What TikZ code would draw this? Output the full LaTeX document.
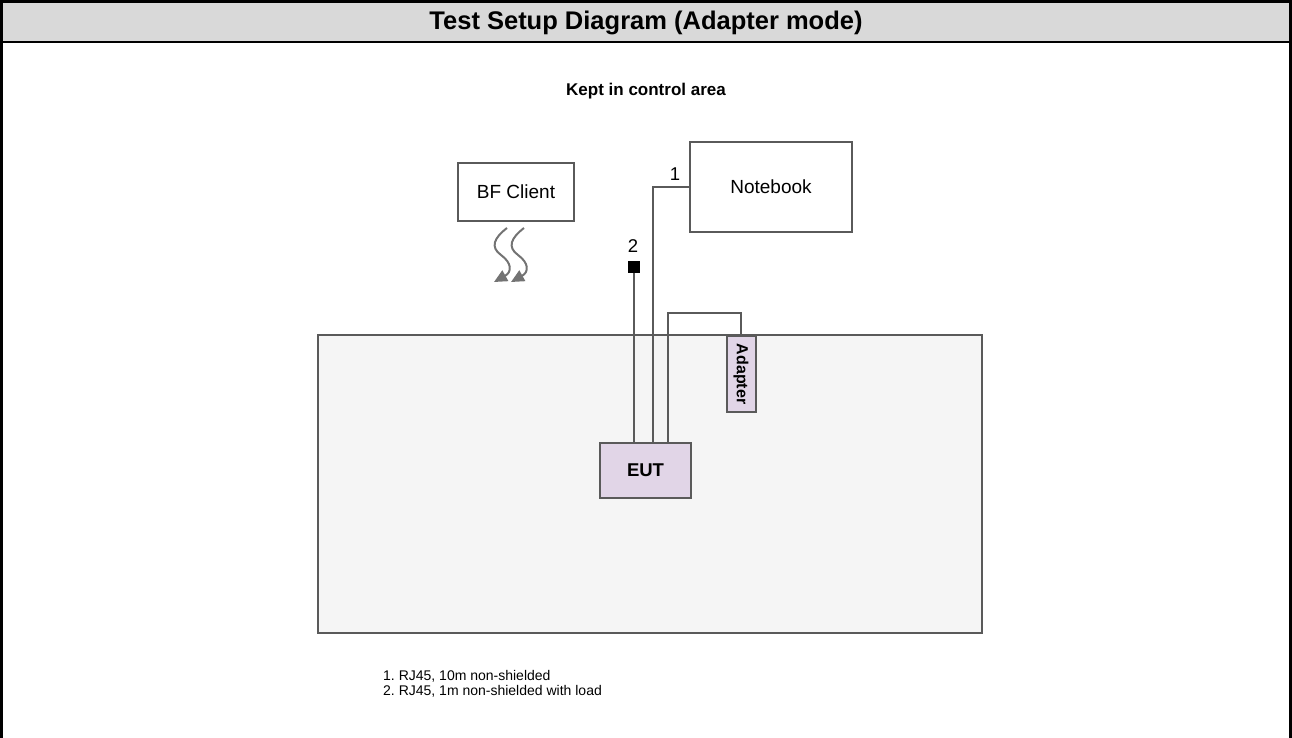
\documentclass[tikz,border=0pt]{standalone}
\usepackage{fontspec}
\setmainfont{Liberation Sans}
\usetikzlibrary{arrows.meta}
\definecolor{strk}{HTML}{5A5A5A}
\definecolor{hdr}{HTML}{D9D9D9}
\definecolor{areafill}{HTML}{F5F5F5}
\definecolor{lav}{HTML}{E1D5E7}
\frenchspacing
\begin{document}
\begin{tikzpicture}[x=1pt,y=-1pt,
  box/.style={draw=strk, line width=2pt, fill=white, inner sep=0pt, font=\fontsize{19}{22}\selectfont},
  lavbox/.style={box, fill=lav, font=\bfseries\fontsize{18.5}{22}\selectfont},
  wire/.style={draw=strk, line width=2pt},
  squig/.style={draw=strk!85, line width=2pt, -{Triangle[length=13pt,width=12pt]}},
  lbl/.style={inner sep=0pt, font=\fontsize{18.5}{22}\selectfont}
]
\useasboundingbox (0,0) rectangle (1292,738);
\fill[hdr] (0,0) rectangle (1292,42);
\draw[black, line width=3pt] (1.5,738) -- (1.5,1.5) -- (1290.5,1.5) -- (1290.5,738);
\draw[black, line width=2.5pt] (0,42) -- (1292,42);
\node[font=\bfseries\fontsize{25.5}{30}\selectfont] (title) at (646,22.5) {Test Setup Diagram (Adapter mode)};
\node[font=\bfseries\fontsize{17}{20}\selectfont] (kept) at (646,91) {Kept in control area};

\node[box, fill=areafill, minimum width=664pt, minimum height=298pt] (area) at (650,484) {};

\node[box, minimum width=116pt, minimum height=57pt] (bf) at (516,192) {BF Client};
\node[box, minimum width=162pt, minimum height=89pt] (nb) at (771,187) {Notebook};
\node[lavbox, minimum width=91pt, minimum height=55pt] (eut) at (645.5,470) {EUT};
\node[lavbox, minimum width=29pt, minimum height=76pt, font=\bfseries\fontsize{16}{18}\selectfont] (ad) at (741,374) {\rotatebox{-90}{Adapter}};
\node[fill=black, minimum size=12pt, inner sep=0pt] (sq) at (634,267) {};

\node[lbl] (l1) at (675,174) {1};
\node[lbl] (l2) at (633,246) {2};

\draw[wire] (nb.west) -| ([xshift=7.5pt]eut.north);
\draw[wire] (sq.south) -- (sq.south |- eut.north);
\draw[wire] ([xshift=22.5pt]eut.north) |- ([yshift=22pt]ad.north) -| (ad.north);

\coordinate (s1) at (507,228);
\coordinate (s2) at (524,228);
\coordinate (e1) at (494,282);
\coordinate (e2) at (511,282);
\draw[squig] (s1) .. controls (494,238) and (490,247) .. (501,255) .. controls (512,263) and (512,272) .. (e1);
\draw[squig] (s2) .. controls (511,238) and (507,247) .. (518,255) .. controls (529,263) and (529,272) .. (e2);

\node[anchor=west, inner sep=0pt, align=left, font=\fontsize{14}{15.5}\selectfont] (legend) at (383,684) {1. RJ45, 10m non-shielded\\2. RJ45, 1m non-shielded with load};
\end{tikzpicture}
\end{document}
